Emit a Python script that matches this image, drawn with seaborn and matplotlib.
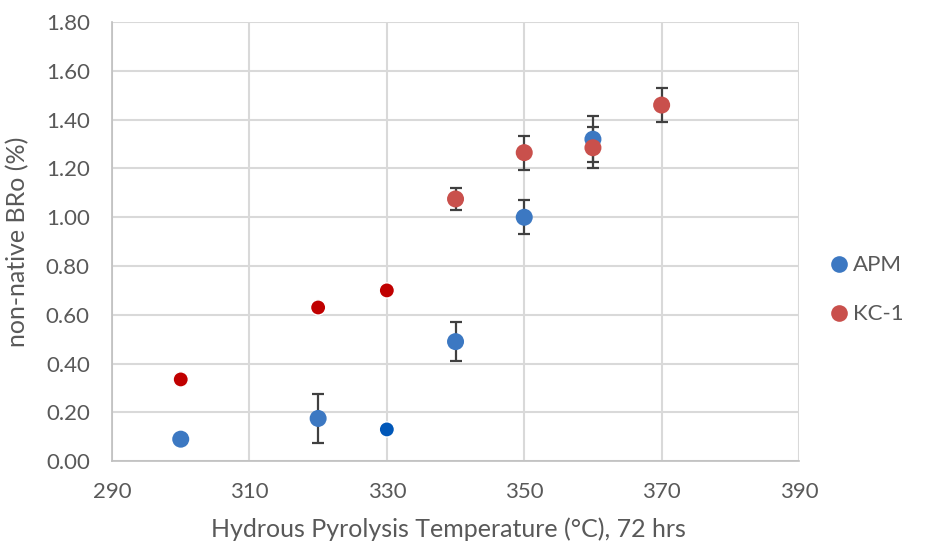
import matplotlib
matplotlib.use("Agg")
import matplotlib.pyplot as plt
import seaborn as sns
import pandas as pd
from matplotlib.lines import Line2D

# ---- data ----
apm_temp = [300, 320, 330, 340, 350, 360]
apm_val = [0.09, 0.175, 0.13, 0.49, 1.00, 1.32]
apm_err = [0.0, 0.10, 0.0, 0.08, 0.07, 0.095]
apm_dark = [False, False, True, False, False, False]

kc_temp = [300, 320, 330, 340, 350, 360, 370]
kc_val = [0.335, 0.63, 0.70, 1.075, 1.265, 1.285, 1.46]
kc_err = [0.0, 0.0, 0.0, 0.045, 0.07, 0.085, 0.07]
kc_dark = [True, True, True, False, False, False, False]

series_names = ["APM", "KC-1"]
x_ticks = [290, 310, 330, 350, 370, 390]
y_ticks = [0.0, 0.2, 0.4, 0.6, 0.8, 1.0, 1.2, 1.4, 1.6, 1.8]

colors = {"APM": "#3C78C2", "KC-1": "#C9504C"}
dark_colors = {"APM": "#0057B8", "KC-1": "#C00000"}

df = pd.concat([
    pd.DataFrame({"temp": apm_temp, "val": apm_val, "err": apm_err, "dark": apm_dark, "series": "APM"}),
    pd.DataFrame({"temp": kc_temp, "val": kc_val, "err": kc_err, "dark": kc_dark, "series": "KC-1"}),
], ignore_index=True)

sns.set_theme(style="white")
plt.rcParams["font.family"] = ["Lato", "DejaVu Sans"]

fig = plt.figure(figsize=(9.29, 5.47), dpi=100)
ax = fig.add_axes([0.1206, 0.157, 0.7395, 0.8025])

# error bars
for name in series_names:
    sub = df[(df.series == name) & (df.err > 0)]
    ax.errorbar(sub.temp, sub.val, yerr=sub.err, fmt="none", ecolor="#404040",
                elinewidth=1.6, capsize=4.5, capthick=1.6, zorder=2)

normal = df[~df.dark]
dark = df[df.dark]
sns.scatterplot(data=normal, x="temp", y="val", hue="series", palette=colors,
                hue_order=series_names, s=150, edgecolor="none", ax=ax,
                legend=False, zorder=3)
sns.scatterplot(data=dark, x="temp", y="val", hue="series", palette=dark_colors,
                hue_order=series_names, s=120, edgecolor="white", linewidth=1.0,
                ax=ax, legend=False, zorder=3)

ax.set_xlim(290, 390)
ax.set_ylim(0, 1.8)
ax.set_xticks(x_ticks)
ax.set_yticks(y_ticks)
ax.set_yticklabels([f"{v:.2f}" for v in y_ticks])
ax.grid(True, color="#D9D9D9", linewidth=1.5)
ax.set_axisbelow(True)
for s in ["top", "right"]:
    ax.spines[s].set_visible(False)
for s in ["left", "bottom"]:
    ax.spines[s].set_color("#BFBFBF")
    ax.spines[s].set_linewidth(1.2)
ax.tick_params(axis="y", colors="#595959", labelsize=16, length=0, pad=16)
ax.tick_params(axis="x", colors="#595959", labelsize=16, length=0, pad=15)
ax.set_xlabel("Hydrous Pyrolysis Temperature (°C), 72 hrs", fontsize=18, color="#595959")
ax.xaxis.set_label_coords(0.49, -0.128)
ax.set_ylabel("non-native BRo (%)", fontsize=18, color="#595959", labelpad=12)

handles = [Line2D([0], [0], marker="o", linestyle="none", markersize=12,
                  markerfacecolor=colors[n], markeredgecolor="none") for n in series_names]
fig.legend(handles, series_names, loc="center left", bbox_to_anchor=(0.87, 0.47),
           frameon=False, fontsize=16, handletextpad=0.1, labelspacing=1.3,
           labelcolor="#595959", handlelength=1.0)

fig.savefig("out.png", dpi=100)
